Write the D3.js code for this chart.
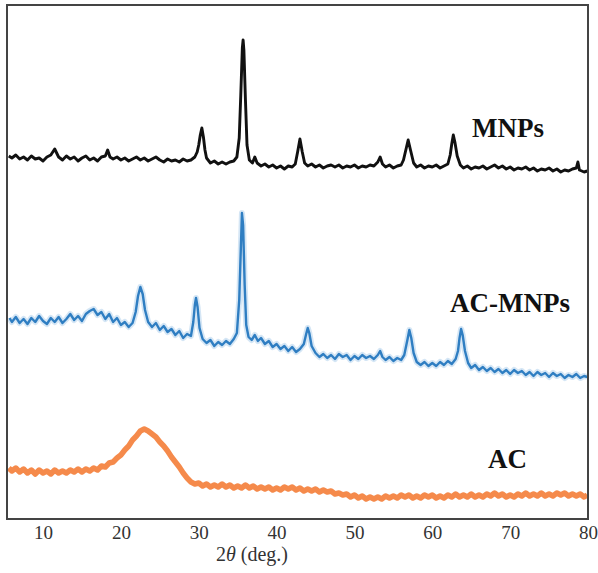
<!DOCTYPE html>
<html>
<head>
<meta charset="utf-8">
<script src="https://cdn.jsdelivr.net/npm/d3@7"></script>
<style>
  html, body { margin: 0; padding: 0; background: #fff; }
  svg { display: block; }
</style>
</head>
<body>
<svg id="chart" width="598" height="573"></svg>
<script>
// ---------- DATA (2θ in degrees, intensity in stacked arbitrary units) ----------
const xTicks = [10, 20, 30, 40, 50, 60, 70, 80];
const seriesNames = ["MNPs", "AC-MNPs", "AC"];

const mnps = [
[5.6,362],[6.0,360],[6.5,363],[7.0,359],[7.5,361],[8.0,358],[8.5,362],[9.0,359],[9.5,360],[10.0,357],
[10.5,361],[11.0,363],[11.5,369],[12.0,361],[12.5,358],[13.0,362],[13.5,359],[14.0,361],[14.5,357],[15.0,360],
[15.5,362],[16.0,358],[16.5,360],[17.0,357],[17.5,361],[18.0,362],[18.3,368],[18.6,361],[19.0,359],[19.5,361],
[20.0,358],[20.5,360],[21.0,357],[21.5,359],[22.0,361],[22.5,358],[23.0,360],[23.5,357],[24.0,359],[24.5,361],
[25.0,358],[25.5,356],[26.0,359],[26.5,357],[27.0,358],[27.5,356],[28.0,359],[28.5,357],[29.0,358],[29.5,361],
[29.8,366],[30.0,373],[30.2,383],[30.4,390],[30.6,381],[30.8,368],[31.0,360],[31.5,355],[32.0,357],[32.5,354],
[33.0,356],[33.5,354],[34.0,356],[34.5,357],[34.9,361],[35.2,380],[35.4,423],[35.6,470],[35.7,478],[35.8,468],
[36.0,418],[36.2,373],[36.5,358],[36.9,355],[37.2,361],[37.5,355],[38.0,352],[38.5,354],[39.0,351],[39.5,353],
[40.0,350],[40.5,352],[41.0,349],[41.5,352],[42.0,351],[42.4,354],[42.7,366],[43.0,379],[43.3,366],[43.6,355],
[44.0,352],[44.5,354],[45.0,351],[45.5,353],[46.0,350],[46.5,352],[47.0,353],[47.5,351],[48.0,353],[48.5,350],
[49.0,352],[49.5,351],[50.0,353],[50.5,350],[51.0,352],[51.5,351],[52.0,353],[52.5,352],[53.0,356],[53.3,361],
[53.6,354],[54.0,351],[54.5,353],[55.0,350],[55.5,352],[56.0,353],[56.3,358],[56.6,368],[56.9,378],[57.2,368],
[57.6,355],[58.0,351],[58.5,353],[59.0,350],[59.5,352],[60.0,351],[60.5,353],[61.0,350],[61.5,352],[62.0,354],
[62.3,363],[62.5,374],[62.7,383],[62.9,376],[63.2,362],[63.6,353],[64.0,350],[64.5,352],[65.0,349],[65.5,351],
[66.0,350],[66.5,352],[67.0,349],[67.5,351],[68.0,353],[68.5,350],[69.0,352],[69.5,349],[70.0,351],[70.5,348],
[71.0,350],[71.5,349],[72.0,351],[72.5,348],[73.0,350],[73.5,347],[74.0,349],[74.5,348],[75.0,350],[75.5,347],
[76.0,349],[76.5,346],[77.0,348],[77.5,347],[78.0,349],[78.5,350],[78.7,356],[78.9,348],[79.5,346],[79.9,347]
];

const acMnps = [
[5.7,200],[6.0,196],[6.5,201],[7.0,195],[7.5,199],[8.0,194],[8.5,200],[9.0,196],[9.5,202],[10.0,197],
[10.5,194],[11.0,200],[11.5,196],[12.0,201],[12.5,195],[13.0,199],[13.5,204],[14.0,198],[14.5,202],[15.0,197],
[15.5,204],[16.0,207],[16.5,209],[17.0,203],[17.5,206],[18.0,199],[18.5,204],[19.0,196],[19.5,200],[20.0,193],
[20.5,196],[21.0,191],[21.5,195],[21.9,206],[22.2,222],[22.5,231],[22.8,224],[23.1,208],[23.5,196],[24.0,191],
[24.5,195],[25.0,188],[25.5,192],[26.0,186],[26.5,189],[27.0,183],[27.5,187],[28.0,180],[28.5,184],[29.0,182],
[29.3,196],[29.5,213],[29.65,220],[29.85,211],[30.1,190],[30.5,179],[31.0,175],[31.5,178],[32.0,172],[32.5,176],
[33.0,173],[33.5,177],[34.0,174],[34.5,179],[34.9,185],[35.2,218],[35.4,268],[35.55,305],[35.7,293],[35.9,233],
[36.1,193],[36.4,181],[36.8,178],[37.2,183],[37.6,177],[38.0,180],[38.5,174],[39.0,177],[39.5,171],[40.0,174],
[40.5,169],[41.0,172],[41.5,167],[42.0,171],[42.5,166],[43.0,169],[43.5,174],[43.8,184],[44.0,190],[44.2,185],
[44.5,172],[45.0,165],[45.5,161],[46.0,164],[46.5,160],[47.0,163],[47.5,159],[48.0,164],[48.5,161],[49.0,163],
[49.5,158],[50.0,162],[50.5,159],[51.0,163],[51.5,160],[52.0,162],[52.5,159],[53.0,163],[53.3,167],[53.6,161],
[54.0,158],[54.5,161],[55.0,157],[55.5,160],[56.0,158],[56.4,163],[56.8,178],[57.05,188],[57.3,180],[57.6,165],
[58.0,156],[58.5,153],[59.0,156],[59.5,152],[60.0,155],[60.5,152],[61.0,156],[61.5,153],[62.0,157],[62.5,154],
[63.0,159],[63.3,167],[63.5,180],[63.7,189],[63.9,183],[64.2,167],[64.6,155],[65.0,150],[65.5,153],[66.0,148],
[66.5,151],[67.0,147],[67.5,150],[68.0,146],[68.5,149],[69.0,145],[69.5,148],[70.0,144],[70.5,148],[71.0,145],
[71.5,147],[72.0,143],[72.5,146],[73.0,142],[73.5,146],[74.0,143],[74.5,145],[75.0,141],[75.5,145],[76.0,142],
[76.5,144],[77.0,140],[77.5,143],[78.0,141],[78.5,144],[79.0,140],[79.5,142],[79.9,141]
];

const ac = [
[5.6,50],[6.0,47],[6.5,50],[7.0,46],[7.5,49],[8.0,45],[8.5,48],[9.0,44],[9.5,48],[10.0,45],
[10.5,47],[11.0,44],[11.5,48],[12.0,45],[12.5,47],[13.0,45],[13.5,48],[14.0,46],[14.5,49],[15.0,46],
[15.5,49],[16.0,47],[16.5,50],[17.0,48],[17.5,52],[18.0,51],[18.5,55],[19.0,56],[19.5,60],[20.0,63],
[20.5,68],[21.0,72],[21.5,78],[22.0,82],[22.5,87],[23.0,89],[23.5,87],[24.0,84],[24.5,81],[25.0,76],
[25.5,72],[26.0,67],[26.5,61],[27.0,56],[27.5,51],[28.0,45],[28.5,40],[29.0,36],[29.5,34],[30.0,35],
[30.5,32],[31.0,34],[31.5,31],[32.0,33],[32.5,31],[33.0,34],[33.5,31],[34.0,33],[34.5,30],[35.0,32],
[35.5,30],[36.0,33],[36.5,30],[37.0,32],[37.5,29],[38.0,31],[38.5,29],[39.0,31],[39.5,28],[40.0,30],
[40.5,28],[41.0,31],[41.5,29],[42.0,31],[42.5,28],[43.0,30],[43.5,27],[44.0,29],[44.5,27],[45.0,29],
[45.5,26],[46.0,28],[46.5,26],[47.0,27],[47.5,24],[48.0,25],[48.5,23],[49.0,24],[49.5,21],[50.0,23],
[50.5,20],[51.0,22],[51.5,19],[52.0,21],[52.5,19],[53.0,21],[53.5,19],[54.0,22],[54.5,20],[55.0,22],
[55.5,20],[56.0,23],[56.5,21],[57.0,23],[57.5,20],[58.0,22],[58.5,20],[59.0,23],[59.5,21],[60.0,23],
[60.5,20],[61.0,22],[61.5,20],[62.0,23],[62.5,21],[63.0,24],[63.5,21],[64.0,23],[64.5,21],[65.0,24],
[65.5,21],[66.0,23],[66.5,21],[67.0,24],[67.5,22],[68.0,25],[68.5,22],[69.0,24],[69.5,21],[70.0,23],
[70.5,21],[71.0,24],[71.5,22],[72.0,25],[72.5,22],[73.0,24],[73.5,22],[74.0,25],[74.5,22],[75.0,24],
[75.5,22],[76.0,25],[76.5,23],[77.0,25],[77.5,22],[78.0,24],[78.5,22],[79.0,24],[79.5,21],[79.9,23]
];

// ---------- DRAWING ----------
const svg = d3.select("#chart");
const pLeft = 8, pRight = 588, pTop = 5, pBottom = 518;

const x = d3.scaleLinear().domain([5.5, 80]).range([pLeft, pRight]);
const y = d3.scaleLinear().domain([0, 513]).range([pBottom, pTop]);

const line = d3.line().x(d => x(d[0])).y(d => y(d[1]));

const styles = [
  { data: mnps,   color: "#111111", width: 2.9, label: seriesNames[0], lx: 472, ly: 137 },
  { data: acMnps, color: "#2f7ec2", width: 2.4, label: seriesNames[1], lx: 450, ly: 312 },
  { data: ac,     color: "#f58a4b", width: 5.5, label: seriesNames[2], lx: 488, ly: 468 }
];

// soft halo under the blue trace
svg.append("path")
  .datum(acMnps)
  .attr("d", line)
  .attr("fill", "none")
  .attr("stroke", "#b9d6ee")
  .attr("stroke-width", 6)
  .attr("stroke-linejoin", "round")
  .attr("opacity", 0.6);

styles.forEach(s => {
  svg.append("path")
    .datum(s.data)
    .attr("d", line)
    .attr("fill", "none")
    .attr("stroke", s.color)
    .attr("stroke-width", s.width)
    .attr("stroke-linejoin", "round");
  svg.append("text")
    .attr("x", s.lx)
    .attr("y", s.ly)
    .attr("font-family", "'Liberation Serif', 'Times New Roman', serif")
    .attr("font-weight", "bold")
    .attr("font-size", 27)
    .attr("fill", "#111")
    .text(s.label);
});

// frame
svg.append("rect")
  .attr("x", 7).attr("y", 5)
  .attr("width", pRight - 7).attr("height", 519 - 5)
  .attr("fill", "none")
  .attr("stroke", "#444")
  .attr("stroke-width", 2);

// x axis labels
const axis = d3.axisBottom(x).tickValues(xTicks).tickSize(0).tickPadding(0);
const g = svg.append("g").attr("transform", `translate(0, 539)`).call(axis);
g.select(".domain").remove();
g.selectAll("text")
  .attr("font-family", "'Liberation Serif', 'Times New Roman', serif")
  .attr("font-size", 19)
  .attr("fill", "#333")
  .attr("dy", "0");

// axis title
const title = svg.append("text")
  .attr("x", 252).attr("y", 561)
  .attr("text-anchor", "middle")
  .attr("font-family", "'Liberation Serif', 'Times New Roman', serif")
  .attr("font-size", 20)
  .attr("fill", "#333");
title.append("tspan").text("2");
title.append("tspan").attr("font-style", "italic").text("θ");
title.append("tspan").text(" (deg.)");
</script>
</body>
</html>
